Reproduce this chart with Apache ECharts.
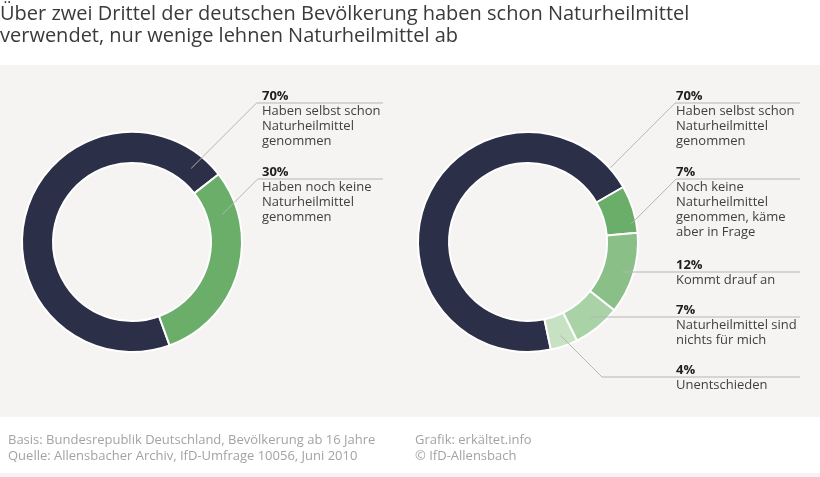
<!DOCTYPE html>
<html><head><meta charset="utf-8">
<script src="https://cdn.jsdelivr.net/npm/echarts@6/dist/echarts.min.js"></script>
<style>html,body{margin:0;padding:0;background:#fff}#c{width:820px;height:477px}</style>
</head><body><div id="c"></div>
<script>
// ---- data ----
const titleLines = ['Über zwei Drittel der deutschen Bevölkerung haben schon Naturheilmittel', 'verwendet, nur wenige lehnen Naturheilmittel ab'];
const leftCategories = ['Haben selbst schon\nNaturheilmittel\ngenommen', 'Haben noch keine\nNaturheilmittel\ngenommen'];
const leftValues = [70, 30];
const rightCategories = ['Haben selbst schon\nNaturheilmittel\ngenommen', 'Noch keine\nNaturheilmittel\ngenommen, käme\naber in Frage', 'Kommt drauf an', 'Naturheilmittel sind\nnichts für mich', 'Unentschieden'];
const rightValues = [70, 7, 12, 7, 4];
const footerLeft = ['Basis: Bundesrepublik Deutschland, Bevölkerung ab 16 Jahre', 'Quelle: Allensbacher Archiv, IfD-Umfrage 10056, Juni 2010'];
const footerRight = ['Grafik: erkältet.info', '© IfD-Allensbach'];

// ---- styling / layout ----
const leftColors = ['#2b2f48', '#6aae6a'];
const rightColors = ['#2b2f48', '#6aae6a', '#8bbf88', '#a9d2a6', '#c6e2c3'];
const FONT = 'Open Sans';
const leftCfg = { center: [132, 242], radius: [79, 110], startAngle: -70, labelX: 262, lineEnd: 383,
  lineY: [103, 179], anchors: [[38.8, 94.5], [73, 94.5]] };
const rightCfg = { center: [528, 242], radius: [79, 110], startAngle: -78, labelX: 676, lineEnd: 800,
  lineY: [103, 179, 272, 317, 377], anchors: [[48, 111], [80, 105], [null, 99], [null, 99], [null, 99]] };

function makeLayout(cfg, values) {
  const total = values.reduce((a, b) => a + b, 0);
  const startCW = 90 - cfg.startAngle;
  return function (params) {
    const i = params.dataIndex;
    let cum = 0;
    for (let k = 0; k < i; k++) cum += values[k];
    const mid = startCW + (cum + values[i] / 2) / total * 360;
    const a = cfg.anchors[i];
    const ang = (a[0] == null ? mid : a[0]) * Math.PI / 180;
    const ax = cfg.center[0] + a[1] * Math.sin(ang);
    const ay = cfg.center[1] - a[1] * Math.cos(ang);
    const ly = cfg.lineY[i];
    const kx = ax + Math.abs(ly - ay);
    return { x: cfg.labelX, y: ly - 15, align: 'left', verticalAlign: 'top',
      labelLinePoints: [[ax, ay], [kx, ly], [cfg.lineEnd, ly]] };
  };
}

// base ring (sectors only)
function makeRing(cfg, cats, vals, colors) {
  return {
    type: 'pie', z: 2, center: cfg.center, radius: cfg.radius, startAngle: cfg.startAngle,
    clockwise: true, avoidLabelOverlap: false, silent: true,
    emphasis: { disabled: true },
    itemStyle: { borderColor: '#ffffff', borderWidth: 2 },
    label: { show: false }, labelLine: { show: false },
    data: vals.map((v, i) => ({ value: v, name: cats[i], itemStyle: { color: colors[i] } }))
  };
}
// transparent overlay carrying labels so leader lines draw over the ring
function makeLabels(cfg, cats, vals) {
  return {
    type: 'pie', z: 5, center: cfg.center, radius: cfg.radius, startAngle: cfg.startAngle,
    clockwise: true, avoidLabelOverlap: false, silent: true,
    emphasis: { disabled: true },
    itemStyle: { color: 'rgba(0,0,0,0)', borderWidth: 0 },
    data: vals.map((v, i) => ({ value: v, name: cats[i] })),
    label: {
      show: true, position: 'outside', fontFamily: FONT,
      formatter: p => '{p|' + p.value + '%}\n' + p.name.split('\n').map(s => '{t|' + s + '}').join('\n'),
      rich: {
        p: { fontFamily: FONT, fontSize: 13, fontWeight: 'bold', color: '#1e1e1e', lineHeight: 16 },
        t: { fontFamily: FONT, fontSize: 13, color: '#404040', lineHeight: 15 }
      }
    },
    labelLine: { show: true, length: 10, length2: 10, lineStyle: { color: '#b5b5b5', width: 1 } },
    labelLayout: makeLayout(cfg, vals)
  };
}

const chart = echarts.init(document.getElementById('c'), null, { renderer: 'canvas' });
chart.setOption({
  animation: false,
  backgroundColor: '#ffffff',
  graphic: [
    { type: 'rect', z: -10, shape: { x: 0, y: 65, width: 820, height: 352 }, style: { fill: '#f5f4f2' } },
    { type: 'rect', z: -10, shape: { x: 0, y: 473, width: 820, height: 4 }, style: { fill: '#f5f4f2' } }
  ],
  title: [
    { text: titleLines.join('\n'), left: 0, top: 3, padding: 0,
      textStyle: { fontFamily: FONT, fontSize: 20, fontWeight: 'normal', color: '#3a3a3a', lineHeight: 22 } },
    { text: footerLeft.join('\n'), left: 8, top: 432, padding: 0,
      textStyle: { fontFamily: FONT, fontSize: 13, fontWeight: 'normal', color: '#a3a3a3', lineHeight: 16 } },
    { text: footerRight.join('\n'), left: 415, top: 432, padding: 0,
      textStyle: { fontFamily: FONT, fontSize: 13, fontWeight: 'normal', color: '#a3a3a3', lineHeight: 16 } }
  ],
  series: [
    makeRing(leftCfg, leftCategories, leftValues, leftColors),
    makeRing(rightCfg, rightCategories, rightValues, rightColors),
    makeLabels(leftCfg, leftCategories, leftValues),
    makeLabels(rightCfg, rightCategories, rightValues)
  ]
});
</script>
</body></html>
